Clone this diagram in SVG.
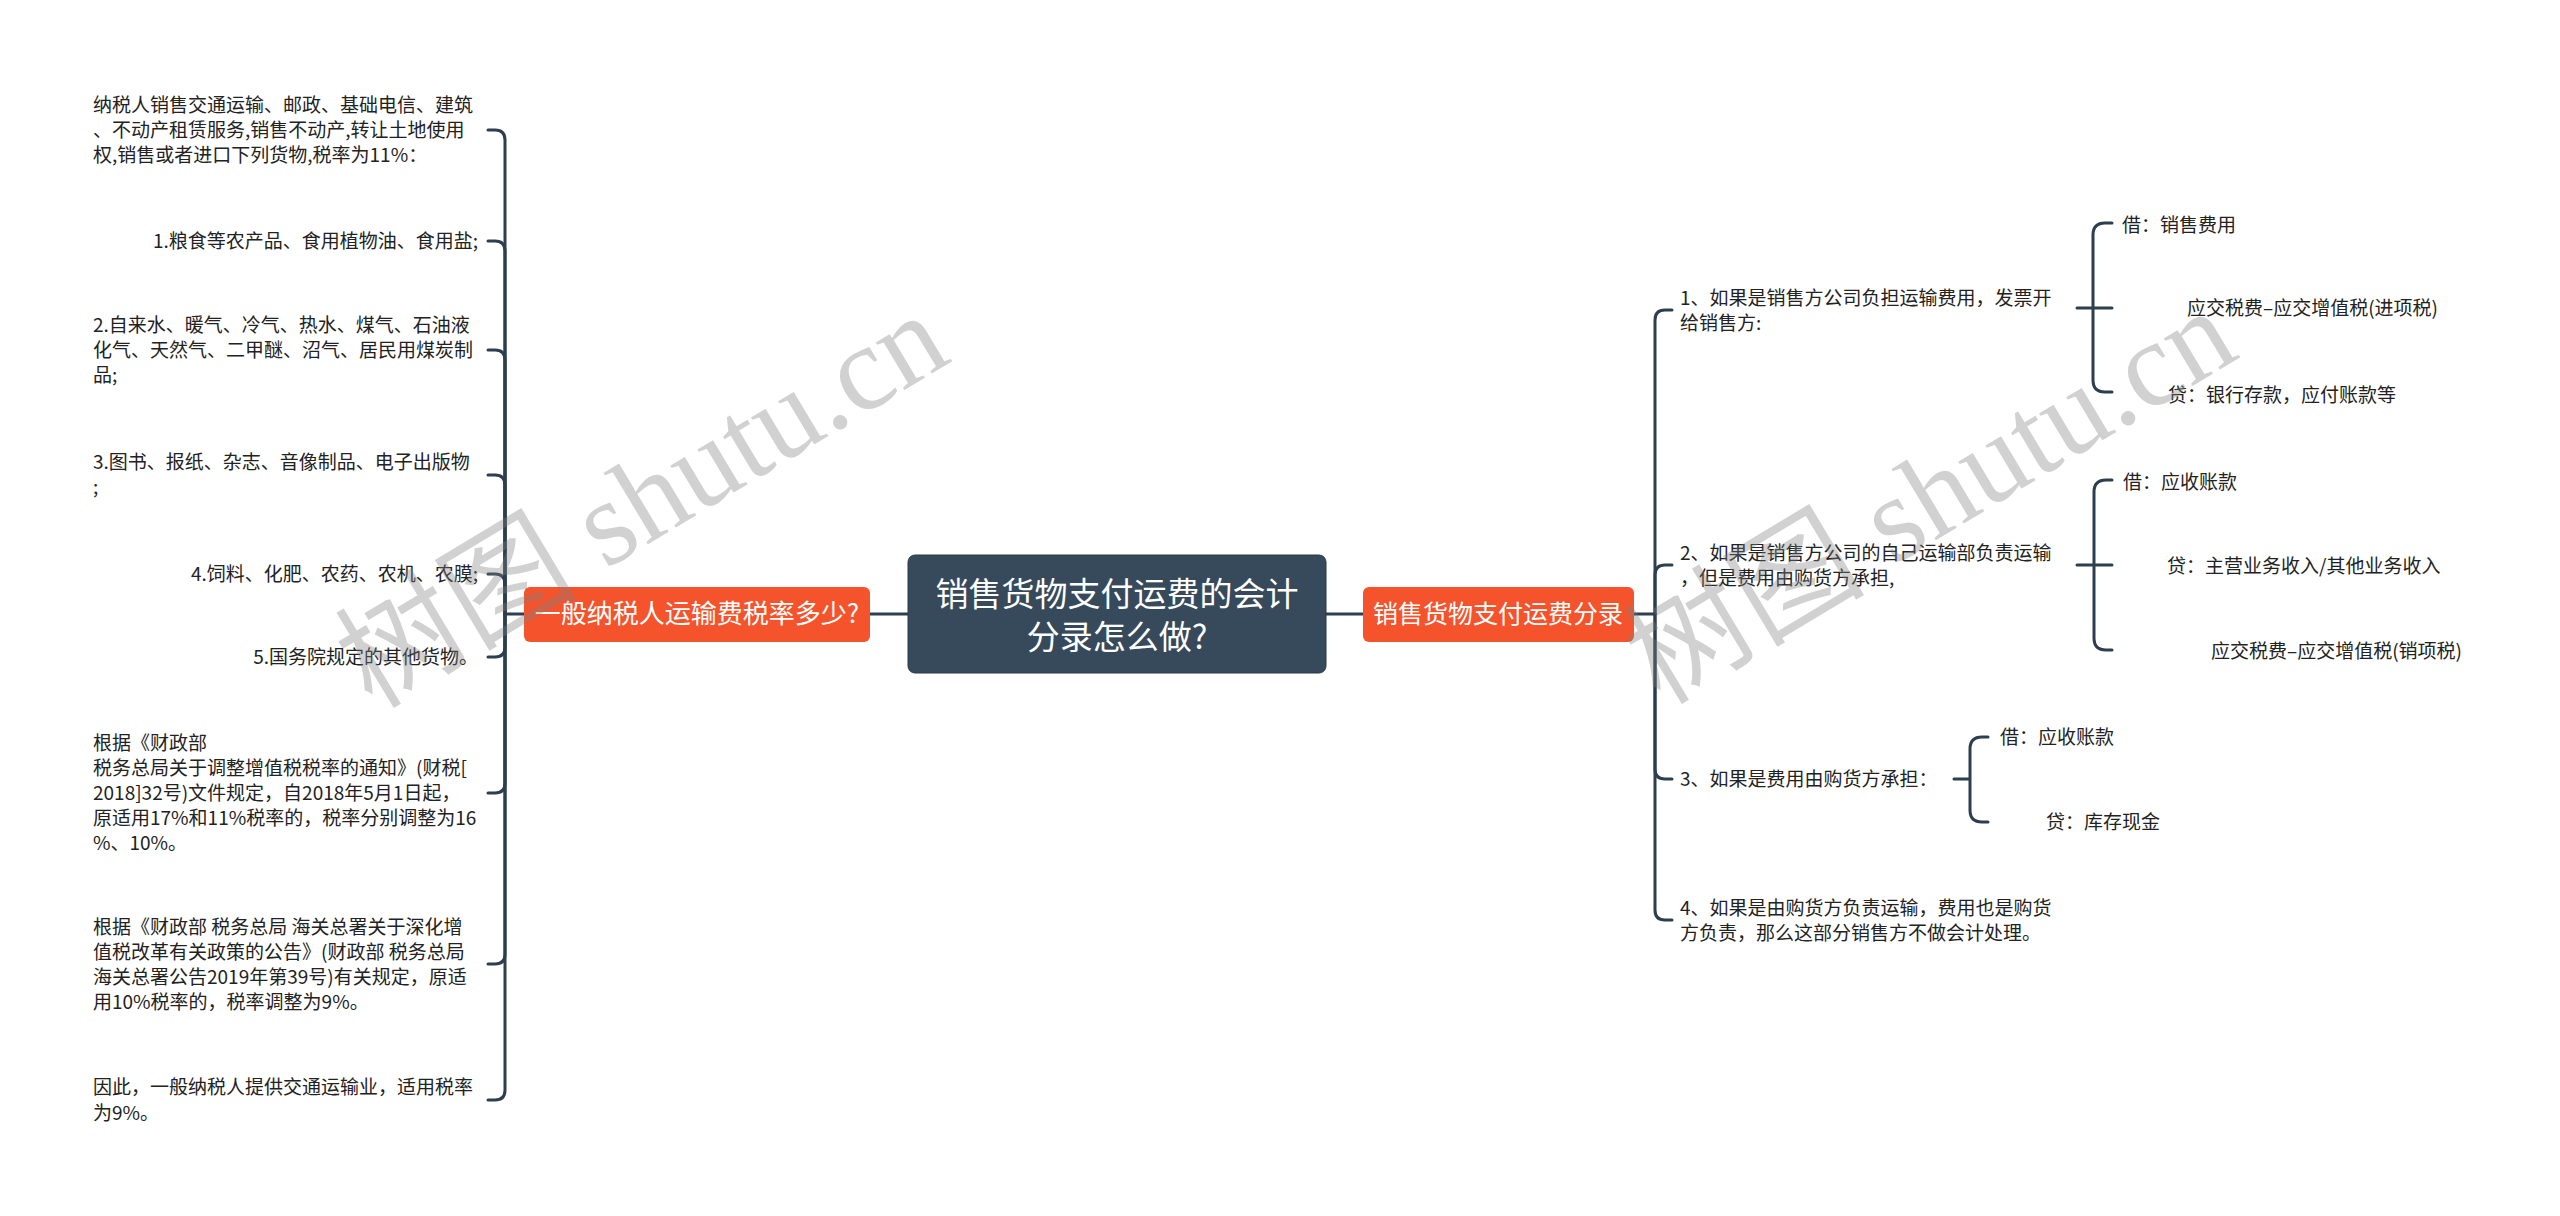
<svg xmlns="http://www.w3.org/2000/svg" width="2560" height="1216" viewBox="0 0 2560 1216">
<style>
.t{font-family:"Noto Sans CJK SC","Noto Sans",sans-serif;font-size:19px;fill:#222}
.e{text-anchor:end}
.c{fill:none;stroke:#2d3e4f;stroke-width:3;stroke-linecap:round}
.on{fill:#f5532b}
.ot{font-family:"Noto Sans CJK SC","Noto Sans",sans-serif;font-size:25px;fill:#fff;text-anchor:middle}
.wm{font-family:"Liberation Serif","Noto Sans CJK SC",serif;font-size:121px;fill:#808080;fill-opacity:0.36}
</style>
<rect width="2560" height="1216" fill="#fff"/>
<g id="connectors">
<path class="c" d="M870 614H908M1326 614H1363"/>
<path class="c" d="M524 614H505"/>
<path class="c" d="M505 614V140Q505 130 495 130H488"/>
<path class="c" d="M505 614V251Q505 241 495 241H488"/>
<path class="c" d="M505 614V360Q505 350 495 350H488"/>
<path class="c" d="M505 614V485Q505 475 495 475H488"/>
<path class="c" d="M505 614V584Q505 574 495 574H488"/>
<path class="c" d="M505 614V647Q505 657 495 657H488"/>
<path class="c" d="M505 614V783Q505 793 495 793H488"/>
<path class="c" d="M505 614V954Q505 964 495 964H488"/>
<path class="c" d="M505 614V1090Q505 1100 495 1100H488"/>
<path class="c" d="M1634 614H1655"/>
<path class="c" d="M1655 614V320Q1655 310 1665 310H1672"/>
<path class="c" d="M1655 614V575Q1655 565 1665 565H1672"/>
<path class="c" d="M1655 614V769Q1655 779 1665 779H1672"/>
<path class="c" d="M1655 614V910Q1655 920 1665 920H1672"/>
<path class="c" d="M2077 308H2112M2093 308V235Q2093 223 2105 223H2112M2093 308V380Q2093 392 2105 392H2112"/>
<path class="c" d="M2077 565H2112M2094 565V492Q2094 480 2106 480H2112M2094 565V638Q2094 650 2106 650H2112"/>
<path class="c" d="M1954 779H1970M1970 779V749Q1970 737 1982 737H1988M1970 779V810Q1970 822 1982 822H1988"/>
</g>
<g id="center">
<rect x="908" y="555" width="418" height="118" rx="7" fill="#364a5b" stroke="#2b3b49" stroke-width="1"/>
<text x="1117" y="606" font-family="Noto Sans CJK SC,sans-serif" font-size="33" fill="#fff" text-anchor="middle">销售货物支付运费的会计</text>
<text x="1117" y="649" font-family="Noto Sans CJK SC,sans-serif" font-size="33" fill="#fff" text-anchor="middle">分录怎么做?</text>
</g>
<g id="left-main">
<rect class="on" x="524" y="587" width="346" height="55" rx="6"/>
<text class="ot" x="697" y="623" style="font-size:26px">一般纳税人运输费税率多少?</text>
</g>
<g id="right-main">
<rect class="on" x="1363" y="587" width="271" height="55" rx="6"/>
<text class="ot" x="1498" y="623">销售货物支付运费分录</text>
</g>
<g id="l1"><text class="t" x="93" y="112">纳税人销售交通运输、邮政、基础电信、建筑</text><text class="t" x="93" y="137">、不动产租赁服务,销售不动产,转让土地使用</text><text class="t" x="93" y="162">权,销售或者进口下列货物,税率为11%：</text></g>
<g id="l2"><text class="t e" x="478" y="248">1.粮食等农产品、食用植物油、食用盐;</text></g>
<g id="l3"><text class="t" x="93" y="332">2.自来水、暖气、冷气、热水、煤气、石油液</text><text class="t" x="93" y="357">化气、天然气、二甲醚、沼气、居民用煤炭制</text><text class="t" x="93" y="382">品;</text></g>
<g id="l4"><text class="t" x="93" y="469">3.图书、报纸、杂志、音像制品、电子出版物</text><text class="t" x="93" y="494">;</text></g>
<g id="l5"><text class="t e" x="478" y="581">4.饲料、化肥、农药、农机、农膜;</text></g>
<g id="l6"><text class="t e" x="478" y="664">5.国务院规定的其他货物。</text></g>
<g id="l7"><text class="t" x="93" y="750">根据《财政部</text><text class="t" x="93" y="775">税务总局关于调整增值税税率的通知》(财税[</text><text class="t" x="93" y="800">2018]32号)文件规定，自2018年5月1日起，</text><text class="t" x="93" y="825">原适用17%和11%税率的，税率分别调整为16</text><text class="t" x="93" y="850">%、10%。</text></g>
<g id="l8"><text class="t" x="93" y="934">根据《财政部 税务总局 海关总署关于深化增</text><text class="t" x="93" y="959">值税改革有关政策的公告》(财政部 税务总局</text><text class="t" x="93" y="984">海关总署公告2019年第39号)有关规定，原适</text><text class="t" x="93" y="1009">用10%税率的，税率调整为9%。</text></g>
<g id="l9"><text class="t" x="93" y="1094">因此，一般纳税人提供交通运输业，适用税率</text><text class="t" x="93" y="1120">为9%。</text></g>
<g id="r1"><text class="t" x="1680" y="305">1、如果是销售方公司负担运输费用，发票开</text><text class="t" x="1680" y="330">给销售方:</text></g>
<g id="r1a"><text class="t" x="2122" y="232">借：销售费用</text></g>
<g id="r1b"><text class="t" x="2187" y="315">应交税费–应交增值税(进项税)</text></g>
<g id="r1c"><text class="t" x="2168" y="402">贷：银行存款，应付账款等</text></g>
<g id="r2"><text class="t" x="1680" y="560">2、如果是销售方公司的自己运输部负责运输</text><text class="t" x="1680" y="585">，但是费用由购货方承担,</text></g>
<g id="r2a"><text class="t" x="2123" y="489">借：应收账款</text></g>
<g id="r2b"><text class="t" x="2167" y="573">贷：主营业务收入/其他业务收入</text></g>
<g id="r2c"><text class="t" x="2211" y="658">应交税费–应交增值税(销项税)</text></g>
<g id="r3"><text class="t" x="1680" y="786">3、如果是费用由购货方承担：</text></g>
<g id="r3a"><text class="t" x="2000" y="744">借：应收账款</text></g>
<g id="r3b"><text class="t" x="2046" y="829">贷：库存现金</text></g>
<g id="r4"><text class="t" x="1680" y="915">4、如果是由购货方负责运输，费用也是购货</text><text class="t" x="1680" y="940">方负责，那么这部分销售方不做会计处理。</text></g>
<g id="watermark">
<text class="wm" transform="translate(372,710) rotate(-31)">树图 shutu.cn</text>
<text class="wm" transform="translate(1660,706) rotate(-31)">树图 shutu.cn</text>
</g>
</svg>
